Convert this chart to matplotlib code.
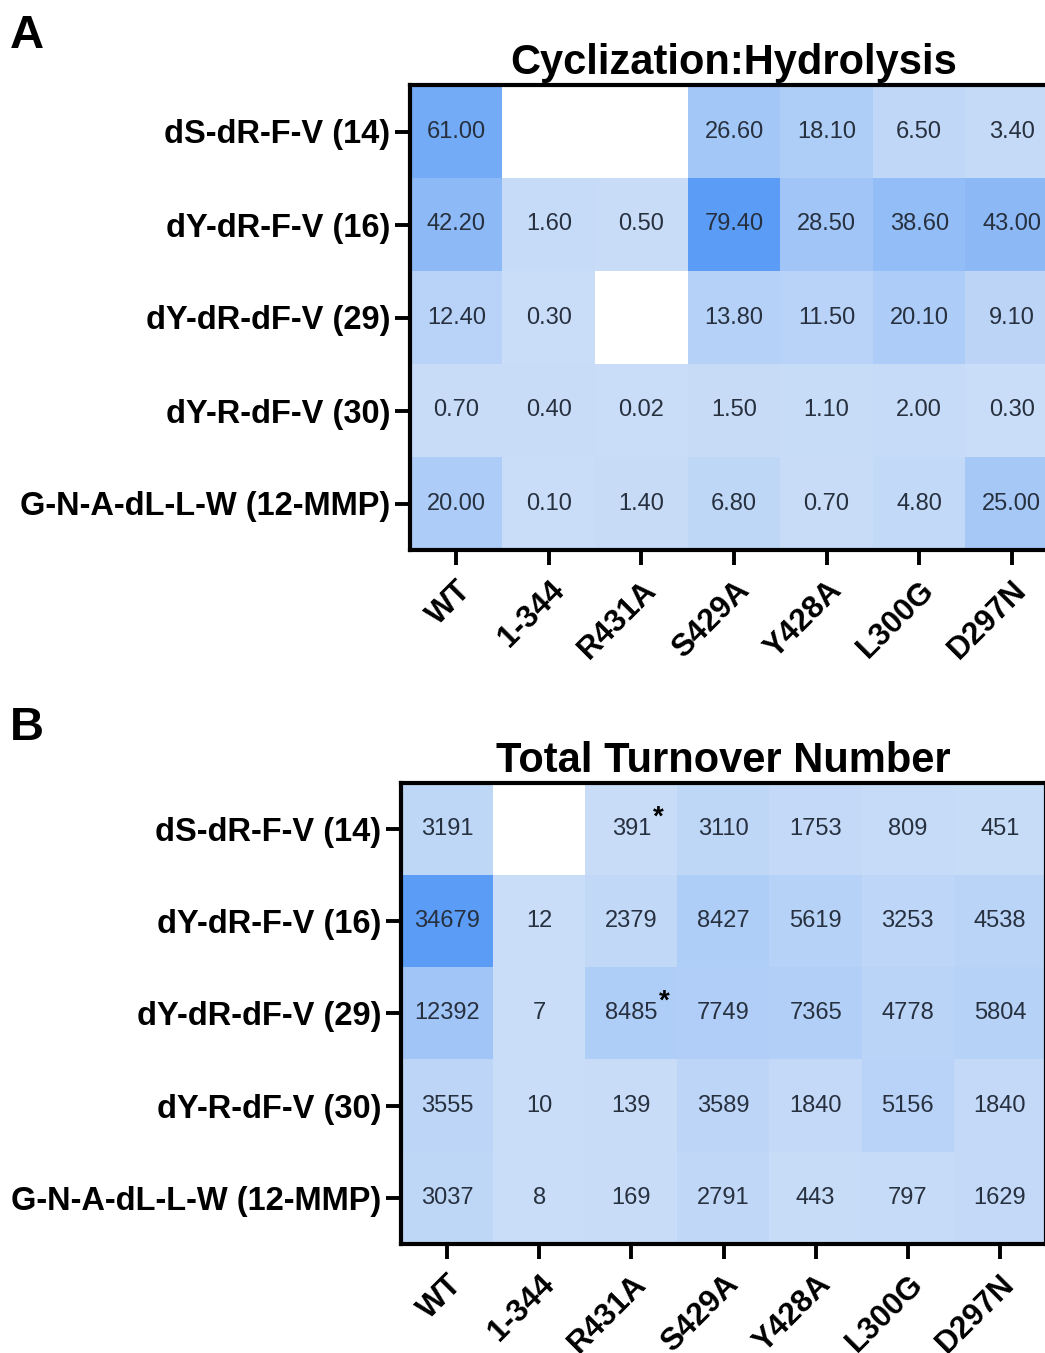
import numpy as np
import matplotlib.pyplot as plt
from matplotlib.colors import LinearSegmentedColormap

plt.rcParams['font.family'] = ['Liberation Sans', 'DejaVu Sans']

peptides = ['dS-dR-F-V (14)', 'dY-dR-F-V (16)', 'dY-dR-dF-V (29)',
            'dY-R-dF-V (30)', 'G-N-A-dL-L-W (12-MMP)']
variants = ['WT', '1-344', 'R431A', 'S429A', 'Y428A', 'L300G', 'D297N']

nan = np.nan
cyc_hyd = [
    [61.00, nan, nan, 26.60, 18.10, 6.50, 3.40],
    [42.20, 1.60, 0.50, 79.40, 28.50, 38.60, 43.00],
    [12.40, 0.30, nan, 13.80, 11.50, 20.10, 9.10],
    [0.70, 0.40, 0.02, 1.50, 1.10, 2.00, 0.30],
    [20.00, 0.10, 1.40, 6.80, 0.70, 4.80, 25.00],
]
ttn = [
    [3191, nan, 391, 3110, 1753, 809, 451],
    [34679, 12, 2379, 8427, 5619, 3253, 4538],
    [12392, 7, 8485, 7749, 7365, 4778, 5804],
    [3555, 10, 139, 3589, 1840, 5156, 1840],
    [3037, 8, 169, 2791, 443, 797, 1629],
]
# cells marked with an asterisk in panel B (row, col)
ttn_starred = [(0, 2), (2, 2)]

cmap = LinearSegmentedColormap.from_list('blu', ['#c9ddf8', '#5a9cf6'])
cmap.set_bad('white')

W, H = 1045, 1353
fig = plt.figure(figsize=(W / 100, H / 100), dpi=100)


def heat(box, data, title, fmt, starred=()):
    l, t, r, b = box
    ax = fig.add_axes([l / W, 1 - b / H, (r - l) / W, (b - t) / H])
    arr = np.ma.masked_invalid(np.array(data, dtype=float))
    ax.imshow(arr, cmap=cmap, vmin=0, vmax=np.nanmax(data), aspect='auto',
              interpolation='nearest')
    for i in range(arr.shape[0]):
        for j in range(arr.shape[1]):
            v = data[i][j]
            if np.isnan(v):
                continue
            txt = ax.text(j, i, fmt.format(v), ha='center', va='center',
                          fontsize=17, color='#27303f')
            if (i, j) in starred:
                ax.annotate('*', xy=(1, 1), xycoords=txt, xytext=(1, -9),
                            textcoords='offset points', ha='left', va='bottom',
                            fontsize=20, fontweight='bold')
    ax.set_xticks(range(len(variants)))
    ax.set_xticklabels(variants, rotation=45, ha='right', rotation_mode='anchor',
                       fontsize=22.5, fontweight='bold')
    ax.set_yticks(range(len(peptides)))
    ax.set_yticklabels(peptides, fontsize=23.5, fontweight='bold')
    ax.tick_params(length=11, width=2.8, pad=3)
    ax.tick_params(axis='x', pad=7)
    for s in ax.spines.values():
        s.set_linewidth(3)
    ax.set_title(title, fontsize=30, fontweight='bold', pad=8)
    return ax


heat((410, 85, 1058, 550), cyc_hyd, 'Cyclization:Hydrolysis', '{:.2f}')
heat((401, 783, 1046, 1244), ttn, 'Total Turnover Number', '{:.0f}', ttn_starred)

fig.text(10 / W, 1 - 48 / H, 'A', fontsize=34, fontweight='bold')
fig.text(10 / W, 1 - 740 / H, 'B', fontsize=34, fontweight='bold')

fig.savefig('out.png', dpi=100)
